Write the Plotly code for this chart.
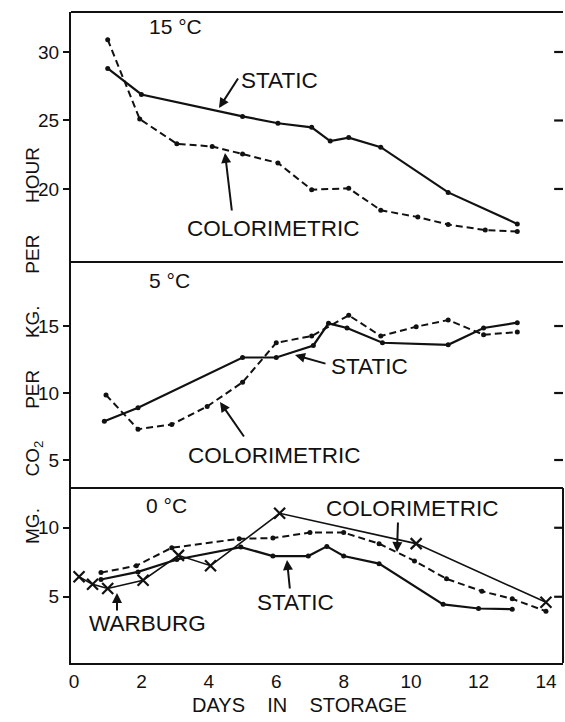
import plotly.graph_objects as go

# ---------------- data ----------------
days_top_static = [1.0, 2.0, 5.0, 6.05, 7.05, 7.6, 8.15, 9.1, 11.1, 13.15]
top_static = [28.8, 26.9, 25.3, 24.8, 24.5, 23.5, 23.75, 23.05, 19.75, 17.45]
days_top_color = [1.0, 1.95, 3.05, 4.1, 5.0, 6.05, 7.05, 8.15, 9.1, 10.2, 11.1, 12.2, 13.15]
top_color = [30.9, 25.1, 23.3, 23.1, 22.55, 21.9, 19.95, 20.05, 18.45, 17.95, 17.4, 17.0, 16.9]

days_mid_static = [0.9, 1.9, 5.0, 6.0, 7.1, 7.55, 8.1, 9.15, 11.1, 12.15, 13.15]
mid_static = [7.9, 8.9, 12.65, 12.65, 13.55, 15.2, 14.85, 13.75, 13.6, 14.85, 15.25]
days_mid_color = [0.95, 1.9, 2.9, 3.95, 5.0, 6.0, 7.05, 8.15, 9.1, 10.15, 11.1, 12.15, 13.15]
mid_color = [9.85, 7.3, 7.65, 9.0, 10.8, 13.75, 14.25, 15.8, 14.25, 14.95, 15.45, 14.35, 14.55]

days_bot_static = [0.8, 1.9, 3.05, 4.95, 5.9, 6.95, 7.5, 8.0, 9.05, 10.95, 12.0, 13.0]
bot_static = [6.25, 6.8, 7.7, 8.6, 7.95, 7.95, 8.65, 7.95, 7.4, 4.45, 4.15, 4.1]
days_bot_color = [0.8, 1.85, 2.9, 4.9, 5.9, 7.0, 8.0, 9.05, 10.1, 11.05, 12.1, 13.0, 14.0]
bot_color = [6.75, 7.25, 8.55, 9.2, 9.25, 9.65, 9.65, 8.85, 7.6, 6.3, 5.4, 4.85, 3.95]
days_warburg = [0.15, 0.55, 1.0, 2.05, 3.1, 4.05, 6.1, 10.15, 14.0]
warburg = [6.45, 5.9, 5.6, 6.2, 8.0, 7.25, 11.05, 8.85, 4.6]

x_ticks = [0, 2, 4, 6, 8, 10, 12, 14]
top_ticks = [20, 25, 30]
mid_ticks = [5, 10, 15]
bot_ticks = [5, 10]

FONT = "Liberation Sans"
BLACK = "#111111"

fig = go.Figure()

def static_trace(x, y, ya):
    return go.Scatter(x=x, y=y, yaxis=ya, mode="lines+markers",
                      line=dict(color=BLACK, width=2.2),
                      marker=dict(color=BLACK, size=5), showlegend=False)

def color_trace(x, y, ya):
    return go.Scatter(x=x, y=y, yaxis=ya, mode="lines+markers",
                      line=dict(color=BLACK, width=2, dash="7px,4px"),
                      marker=dict(color=BLACK, size=5), showlegend=False)

fig.add_trace(static_trace(days_top_static, top_static, "y"))
fig.add_trace(color_trace(days_top_color, top_color, "y"))
fig.add_trace(static_trace(days_mid_static, mid_static, "y2"))
fig.add_trace(color_trace(days_mid_color, mid_color, "y2"))
fig.add_trace(static_trace(days_bot_static, bot_static, "y3"))
fig.add_trace(color_trace(days_bot_color, bot_color, "y3"))
fig.add_trace(go.Scatter(x=days_warburg, y=warburg, yaxis="y3", mode="lines+markers",
                         line=dict(color=BLACK, width=1.6),
                         marker=dict(color=BLACK, size=11, symbol="x-thin",
                                     line=dict(color=BLACK, width=2.2)),
                         showlegend=False))

d_bot = [0.0, 0.2688]
d_mid = [0.2688, 0.616]
d_top = [0.616, 1.0]

def yax(domain, rng, ticks):
    return dict(domain=domain, range=rng, tickvals=ticks, ticks="outside",
                ticklen=6, tickwidth=2, tickcolor=BLACK, showgrid=False,
                zeroline=False, showline=True, linecolor=BLACK, linewidth=2,
                anchor="x", automargin=False,
                tickfont=dict(family=FONT, size=19, color=BLACK))

fig.update_layout(
    width=565, height=722,
    margin=dict(l=71, r=2, t=12, b=59, autoexpand=False),
    paper_bgcolor="white", plot_bgcolor="white",
    font=dict(family=FONT, color=BLACK),
    xaxis=dict(range=[-0.089, 14.506], tickvals=x_ticks, ticks="",
               showgrid=False, zeroline=False, showline=True,
               linecolor=BLACK, linewidth=2, anchor="y3", automargin=False,
               tickfont=dict(family=FONT, size=19, color=BLACK)),
    yaxis=yax(d_top, [14.67, 32.92], top_ticks),
    yaxis2=yax(d_mid, [2.91, 19.78], mid_ticks),
    yaxis3=yax(d_bot, [0.2, 12.88], bot_ticks),
)

# panel borders and right-hand tick marks
shapes = []
for ya in ["y", "y2", "y3"]:
    shapes.append(dict(type="line", xref="paper", yref=f"{ya} domain",
                       x0=0, x1=1, y0=1, y1=1, line=dict(color=BLACK, width=2)))
shapes.append(dict(type="line", xref="paper", yref="y3 domain",
                   x0=1, x1=1, y0=0, y1=1, line=dict(color=BLACK, width=2)))
for ya, tv in [("y", top_ticks), ("y2", mid_ticks), ("y3", bot_ticks)]:
    for t in tv:
        shapes.append(dict(type="line", xref="x domain", yref=ya,
                           x0=0.982, x1=1.0, y0=t, y1=t, layer="above",
                           line=dict(color=BLACK, width=2.2)))
fig.update_layout(shapes=shapes)

ann = []
def txt(text, x, y, size=22.5):
    ann.append(dict(text=text, x=x, y=y, xref="paper", yref="paper",
                    showarrow=False, xanchor="center", yanchor="middle",
                    font=dict(family=FONT, size=size, color=BLACK)))

def arrow(x, y, ax, ay):
    ann.append(dict(text="", x=x, y=y, xref="paper", yref="paper",
                    showarrow=True, ax=ax, ay=ay, arrowhead=2, arrowsize=1,
                    arrowwidth=2, arrowcolor=BLACK))

txt("15 °C", 0.2114, 0.977, 21)
txt("STATIC", 0.4228, 0.8955)
arrow(0.3008, 0.8525, 20, -31)
txt("COLORIMETRIC", 0.4106, 0.6682)
arrow(0.313, 0.7834, 7, 59)

txt("5 °C", 0.2012, 0.5883, 21)
txt("STATIC", 0.6077, 0.4562)
arrow(0.4553, 0.4731, 32, 9)
txt("COLORIMETRIC", 0.4146, 0.318)
arrow(0.3028, 0.4009, 25, 36)

txt("0 °C", 0.1931, 0.2427, 21)
txt("COLORIMETRIC", 0.6931, 0.2366)
arrow(0.6626, 0.1705, 1, -31)
txt("STATIC", 0.4553, 0.0937)
arrow(0.439, 0.1582, 3, 30)
txt("WARBURG", 0.1545, 0.0614)
arrow(0.0935, 0.1075, 0, 19)

sp4 = "&nbsp;" * 4
txt("DAYS" + sp4 + "IN" + sp4 + "STORAGE", 0.4654, -0.0645, 20)
sp6 = "&nbsp;" * 6
ann.append(dict(text=sp6.join(["MG.", "CO<sub>2</sub>", "PER", "KG.", "PER", "HOUR"]),
                x=-0.0752, y=0.487, xref="paper", yref="paper", showarrow=False,
                textangle=-90, xanchor="center", yanchor="middle",
                font=dict(family=FONT, size=19, color=BLACK)))
fig.update_layout(annotations=ann)

fig.write_html("out.html", config={"displayModeBar": False},
               post_script="document.body.style.margin='0';document.body.style.padding='0';")
